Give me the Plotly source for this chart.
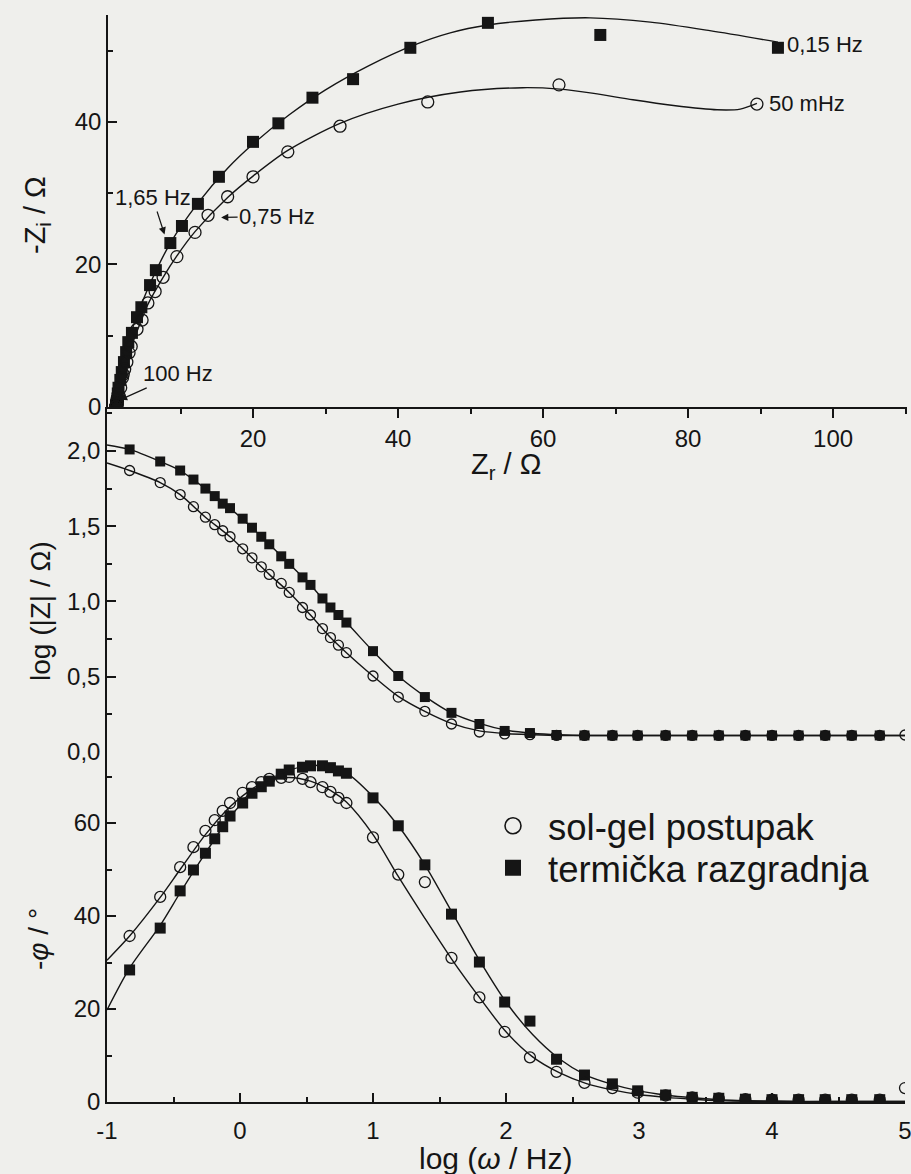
import plotly.graph_objects as go

W, H = 911, 1174

# ---------------- data ----------------
# Nyquist: termička razgradnja (squares), 0.15 Hz ... high frequency
nyq_sq_zr = [92.4, 67.9, 52.4, 41.7, 33.8, 28.2, 23.5, 20.0, 15.3, 12.4, 10.2, 8.6, 6.6, 5.8,
             4.6, 4.0, 3.3, 2.8, 2.5, 2.2, 1.9, 1.7, 1.45, 1.35, 1.3, 1.25, 1.2, 1.2, 1.15,
             1.15, 1.1, 1.1, 1.1, 1.1, 1.1, 1.1, 1.1, 1.1, 1.1, 1.1]
nyq_sq_zi = [50.4, 52.2, 53.9, 50.4, 46.0, 43.4, 39.8, 37.2, 32.3, 28.5, 25.4, 23.0, 19.2, 17.1,
             14.0, 12.6, 10.4, 9.1, 7.7, 6.3, 4.9, 3.8, 2.7, 1.9, 1.2, 0.8, 0.6, 0.4, 0.3,
             0.2, 0.1, 0.1, 0.1, 0.05, 0.05, 0.05, 0.05, 0.05, 0.05, 0.05]
# Nyquist: sol-gel postupak (circles), 50 mHz ... high frequency
nyq_ci_zr = [89.5, 62.2, 44.1, 32.0, 24.8, 20.0, 16.5, 13.8, 12.0, 9.5, 7.6, 6.5, 5.5, 4.7,
             4.0, 3.2, 2.9, 2.6, 2.3, 2.1, 2.0, 1.75, 1.5, 1.35, 1.3, 1.27, 1.25, 1.2, 1.2,
             1.15, 1.15, 1.1, 1.1, 1.1, 1.1, 1.1, 1.1, 1.1, 1.1, 1.1, 1.1]
nyq_ci_zi = [42.5, 45.2, 42.8, 39.4, 35.8, 32.3, 29.5, 26.9, 24.5, 21.1, 18.2, 16.2, 14.6, 12.2,
             10.9, 8.5, 7.6, 6.3, 5.3, 4.6, 4.1, 2.7, 1.7, 1.3, 0.8, 0.5, 0.35, 0.25, 0.2,
             0.15, 0.1, 0.1, 0.1, 0.05, 0.05, 0.05, 0.05, 0.05, 0.05, 0.05, 0.05]
# Nyquist fitted curves
fit_sq_zr = [1.0, 1.3, 1.9, 2.8, 4.0, 5.8, 8.6, 12.4, 16.5, 20.0, 25.0, 30.0, 36.0, 42.0,
             47.2, 52.4, 59.0, 66.5, 74.8, 83.0, 92.4]
fit_sq_zi = [0.0, 2.0, 5.0, 9.2, 12.8, 17.3, 23.0, 28.6, 33.5, 36.9, 41.0, 44.5, 47.9, 50.7,
             52.5, 53.6, 54.3, 54.6, 54.0, 52.8, 51.2]
fit_ci_zr = [1.0, 1.3, 2.0, 3.0, 4.0, 5.5, 7.6, 9.5, 12.0, 16.5, 20.0, 24.8, 32.0, 40.0,
             48.6, 57.2, 62.3, 67.0, 72.4, 78.0, 84.0, 87.2, 89.5]
fit_ci_zi = [0.0, 2.0, 4.8, 8.0, 10.6, 14.4, 18.2, 21.2, 24.6, 29.4, 32.4, 36.0, 39.8, 42.5,
             44.2, 44.8, 44.6, 44.0, 43.1, 42.3, 41.7, 41.8, 42.6]

# Bode: log(omega / Hz)
bode_x = [-0.83, -0.6, -0.45, -0.35, -0.26, -0.19, -0.13, -0.075, 0.02, 0.09, 0.16, 0.22,
          0.31, 0.37, 0.47, 0.53, 0.62, 0.68, 0.74, 0.80, 1.0, 1.19, 1.39, 1.59, 1.8, 1.99,
          2.18, 2.38, 2.59, 2.8, 2.99, 3.2, 3.4, 3.6, 3.8, 4.0, 4.2, 4.4, 4.6, 4.81]
bode_ci_x = bode_x + [5.0]
logz_sq = [2.01, 1.93, 1.87, 1.81, 1.75, 1.70, 1.65, 1.62, 1.55, 1.49, 1.43, 1.38, 1.30, 1.25,
           1.16, 1.11, 1.02, 0.96, 0.91, 0.86, 0.67, 0.505, 0.365, 0.26, 0.186, 0.14, 0.126,
           0.113, 0.11, 0.11, 0.11, 0.11, 0.11, 0.11, 0.11, 0.11, 0.11, 0.11, 0.11, 0.11]
logz_ci = [1.87, 1.79, 1.71, 1.63, 1.56, 1.51, 1.47, 1.43, 1.35, 1.29, 1.23, 1.18, 1.12, 1.06,
           0.96, 0.91, 0.82, 0.76, 0.71, 0.66, 0.505, 0.365, 0.27, 0.186, 0.133, 0.12, 0.115,
           0.11, 0.11, 0.11, 0.11, 0.11, 0.11, 0.11, 0.11, 0.11, 0.11, 0.11, 0.11, 0.11, 0.113]
phase_sq = [28.4, 37.4, 45.4, 49.9, 53.5, 56.6, 59.2, 61.5, 64.3, 66.4, 67.8, 69.0, 70.5, 71.4,
            72.0, 72.3, 72.3, 71.9, 71.2, 70.7, 65.4, 59.4, 51.0, 40.4, 30.1, 21.5, 17.4, 9.2,
            5.8, 3.9, 2.4, 1.5, 1.0, 0.8, 0.6, 0.5, 0.5, 0.5, 0.5, 0.5]
phase_ci = [35.7, 44.1, 50.5, 54.8, 58.3, 60.6, 62.6, 64.3, 66.5, 67.7, 68.8, 69.5, 69.7, 69.9,
            69.5, 68.8, 67.7, 66.7, 65.4, 64.3, 56.9, 48.9, 47.3, 31.0, 22.5, 15.1, 9.6, 6.5,
            4.1, 3.0, 2.0, 1.4, 1.0, 0.8, 0.6, 0.5, 0.5, 0.5, 0.5, 0.5, 3.0]
# Bode fitted curves
fit_x = [-1, -0.83, -0.6, -0.45, -0.26, -0.075, 0.09, 0.22, 0.37, 0.53, 0.68, 0.8, 1.0, 1.19,
         1.39, 1.59, 1.8, 2.0, 2.2, 2.4, 2.6, 2.8, 3.0, 3.2, 3.4, 3.6, 4.0, 4.5, 5.0]
fit_logz_sq = [2.04, 2.01, 1.93, 1.87, 1.75, 1.62, 1.49, 1.38, 1.25, 1.11, 0.96, 0.86, 0.67,
               0.505, 0.37, 0.26, 0.19, 0.145, 0.125, 0.115, 0.11, 0.11, 0.11, 0.11, 0.11,
               0.11, 0.11, 0.11, 0.11]
fit_logz_ci = [1.92, 1.87, 1.79, 1.71, 1.56, 1.43, 1.29, 1.18, 1.06, 0.91, 0.76, 0.66, 0.505,
               0.37, 0.27, 0.19, 0.14, 0.122, 0.115, 0.11, 0.11, 0.11, 0.11, 0.11, 0.11, 0.11,
               0.11, 0.11, 0.11]
fit_phase_sq = [19.8, 28.8, 38.0, 45.0, 53.5, 61.3, 66.3, 69.0, 71.3, 72.4, 72.0, 70.8, 65.7,
                59.4, 51.0, 41.0, 30.5, 21.5, 14.5, 9.3, 5.8, 3.8, 2.4, 1.5, 0.9, 0.5, 0.2,
                0.1, 0.1]
fit_phase_ci = [30.5, 35.7, 44.0, 50.0, 57.5, 63.5, 67.3, 69.2, 69.8, 69.0, 67.0, 64.5, 57.5,
                48.5, 39.5, 30.8, 22.5, 15.1, 9.7, 6.3, 4.0, 2.6, 1.6, 1.0, 0.6, 0.3, 0.1,
                0.1, 0.1]

series_names = ["sol-gel postupak", "termička razgradnja"]
nyq_xticks = [20, 40, 60, 80, 100]
nyq_yticks = [0, 20, 40]
logz_ticks = [0.0, 0.5, 1.0, 1.5, 2.0]
phase_ticks = [0, 20, 40, 60]
bode_xticks = [-1, 0, 1, 2, 3, 4, 5]
bode_xticktext = ["-1", "0", "1", "2", "3", "4", "5"]

# ---------------- figure ----------------
FONT = '"Liberation Sans", Arial, Helvetica, sans-serif'
INK = "#151515"
BG = "#efefec"


def fx(p):
    return p / W


def fy(p):
    return 1 - p / H


fig = go.Figure()

open_c = dict(symbol="circle-open", color=INK, line=dict(width=1.3, color=INK))
fill_s = dict(symbol="square", color=INK, line=dict(width=0))
fitline = dict(color=INK, width=1.4, shape="spline", smoothing=0.8)

# Nyquist
fig.add_trace(go.Scatter(x=fit_sq_zr, y=fit_sq_zi, mode="lines", line=fitline,
                         showlegend=False, xaxis="x", yaxis="y", hoverinfo="skip"))
fig.add_trace(go.Scatter(x=fit_ci_zr, y=fit_ci_zi, mode="lines", line=fitline,
                         showlegend=False, xaxis="x", yaxis="y", hoverinfo="skip"))
fig.add_trace(go.Scatter(x=nyq_sq_zr, y=nyq_sq_zi, mode="markers",
                         marker=dict(size=12, **fill_s), showlegend=False, xaxis="x", yaxis="y"))
fig.add_trace(go.Scatter(x=nyq_ci_zr, y=nyq_ci_zi, mode="markers",
                         marker=dict(size=12, **open_c), showlegend=False, xaxis="x", yaxis="y"))

# |Z|
fig.add_trace(go.Scatter(x=fit_x, y=fit_logz_sq, mode="lines", line=fitline,
                         showlegend=False, xaxis="x2", yaxis="y2", hoverinfo="skip"))
fig.add_trace(go.Scatter(x=fit_x, y=fit_logz_ci, mode="lines", line=fitline,
                         showlegend=False, xaxis="x2", yaxis="y2", hoverinfo="skip"))
fig.add_trace(go.Scatter(x=bode_x, y=logz_sq, mode="markers",
                         marker=dict(size=10, **fill_s), showlegend=False, xaxis="x2", yaxis="y2"))
fig.add_trace(go.Scatter(x=bode_ci_x, y=logz_ci, mode="markers",
                         marker=dict(size=10, **open_c), showlegend=False, xaxis="x2", yaxis="y2"))

# phase
fig.add_trace(go.Scatter(x=fit_x, y=fit_phase_sq, mode="lines", line=fitline,
                         showlegend=False, xaxis="x2", yaxis="y3", hoverinfo="skip"))
fig.add_trace(go.Scatter(x=fit_x, y=fit_phase_ci, mode="lines", line=fitline,
                         showlegend=False, xaxis="x2", yaxis="y3", hoverinfo="skip"))
fig.add_trace(go.Scatter(x=bode_x, y=phase_sq, mode="markers",
                         marker=dict(size=11, **fill_s), showlegend=False, xaxis="x2", yaxis="y3"))
fig.add_trace(go.Scatter(x=bode_ci_x, y=phase_ci, mode="markers",
                         marker=dict(size=11, **open_c), showlegend=False, xaxis="x2", yaxis="y3"))

# legend entries (each in its own legend box for exact placement)
fig.add_trace(go.Scatter(x=[None], y=[None], mode="markers", name=series_names[0],
                         marker=dict(size=18, symbol="circle-open", color=INK,
                                     line=dict(width=1.6, color=INK)),
                         xaxis="x2", yaxis="y3", legend="legend"))
fig.add_trace(go.Scatter(x=[None], y=[None], mode="markers", name=series_names[1],
                         marker=dict(size=18, **fill_s), xaxis="x2", yaxis="y3",
                         legend="legend2"))

axis_common = dict(showline=True, linecolor=INK, linewidth=1.5, showgrid=False,
                   zeroline=False, tickcolor=INK, tickwidth=1.5,
                   tickfont=dict(family=FONT, size=24, color=INK))

legend_common = dict(xanchor="left", yanchor="middle", bgcolor="rgba(0,0,0,0)",
                     borderwidth=0, font=dict(family=FONT, size=36.5, color=INK),
                     itemwidth=60)

fig.update_layout(
    width=W, height=H,
    margin=dict(l=0, r=0, t=0, b=0, autoexpand=False),
    paper_bgcolor=BG, plot_bgcolor=BG,
    separators=", ",
    font=dict(family=FONT, color=INK),
    xaxis=dict(domain=[fx(108), fx(907)], range=[0, 110.2], anchor="y",
               ticks="outside", ticklen=9, tickvals=nyq_xticks,
               minor=dict(ticks="outside", ticklen=5, tickvals=[10, 30, 50, 70, 90, 110],
                          tickcolor=INK, tickwidth=1.5),
               **axis_common),
    yaxis=dict(domain=[fy(407), fy(15)], range=[0, 55.0], anchor="x",
               ticks="inside", ticklen=9, tickvals=nyq_yticks,
               minor=dict(ticks="inside", ticklen=5, tickvals=[10, 30, 50],
                          tickcolor=INK, tickwidth=1.5),
               **axis_common),
    xaxis2=dict(domain=[fx(107), fx(905)], range=[-1, 5], anchor="y3",
                ticks="inside", ticklen=9, tickvals=bode_xticks, ticktext=bode_xticktext,
                ticklabelstandoff=6, ticklabeloverflow="allow",
                minor=dict(ticks="inside", ticklen=5,
                           tickvals=[-0.5, 0.5, 1.5, 2.5, 3.5, 4.5],
                           tickcolor=INK, tickwidth=1.5),
                **axis_common),
    yaxis2=dict(domain=[fy(752), fy(407)], range=[0, 2.292], anchor="x2",
                ticks="inside", ticklen=9, tickvals=logz_ticks, tickformat=".1f",
                minor=dict(ticks="inside", ticklen=5,
                           tickvals=[0.25, 0.75, 1.25, 1.75, 2.25],
                           tickcolor=INK, tickwidth=1.5),
                **axis_common),
    yaxis3=dict(domain=[fy(1102), fy(752)], range=[0, 75.27], anchor="x2",
                ticks="inside", ticklen=9, tickvals=phase_ticks,
                minor=dict(ticks="inside", ticklen=5, tickvals=[10, 30, 50, 70],
                           tickcolor=INK, tickwidth=1.5),
                **axis_common),
    legend=dict(x=fx(478), y=fy(826), **legend_common),
    legend2=dict(x=fx(478), y=fy(868), **legend_common),
)

ann = []


def label(text, px, py, size, angle=0, xanchor="center"):
    ann.append(dict(text=text, x=fx(px), y=fy(py), xref="paper", yref="paper",
                    showarrow=False, textangle=angle, xanchor=xanchor, yanchor="middle",
                    font=dict(family=FONT, size=size, color=INK)))


label("-Z<sub>i</sub> / Ω", 37, 215, 29, -90)
label("Z<sub>r</sub> / Ω", 506, 466, 29)
label("log (|Z| / Ω)", 40, 611, 28, -90)
label("-<i>φ</i> / °", 38, 939, 28, -90)
label("log (<i>ω</i> / Hz)", 495, 1158, 30)
label("0,15 Hz", 785, 44, 22, xanchor="left")
label("50 mHz", 767, 103, 22, xanchor="left")

arrow_common = dict(xref="x", yref="y", axref="pixel", ayref="pixel", showarrow=True,
                    arrowhead=2, arrowsize=1.2, arrowwidth=1.2, arrowcolor=INK,
                    font=dict(family=FONT, size=22, color=INK))
ann.append(dict(text="1,65 Hz", x=nyq_sq_zr[11] - 0.8, y=nyq_sq_zi[11] + 1.2,
                ax=-12, ay=-37, **arrow_common))
ann.append(dict(text="0,75 Hz", x=nyq_ci_zr[7] + 1.8, y=nyq_ci_zi[7] - 0.3,
                ax=56, ay=-1, **arrow_common))
ann.append(dict(text="100 Hz", x=nyq_sq_zr[25] + 0.4, y=nyq_sq_zi[25] + 0.2,
                ax=58, ay=-26, **arrow_common))

fig.update_layout(annotations=ann)

fig.write_html(
    "out.html",
    config={"displayModeBar": False},
    post_script="document.documentElement.style.margin='0';"
                "document.body.style.margin='0';document.body.style.padding='0';"
                "document.body.style.overflow='hidden';"
                "document.body.style.background='" + BG + "';",
)
